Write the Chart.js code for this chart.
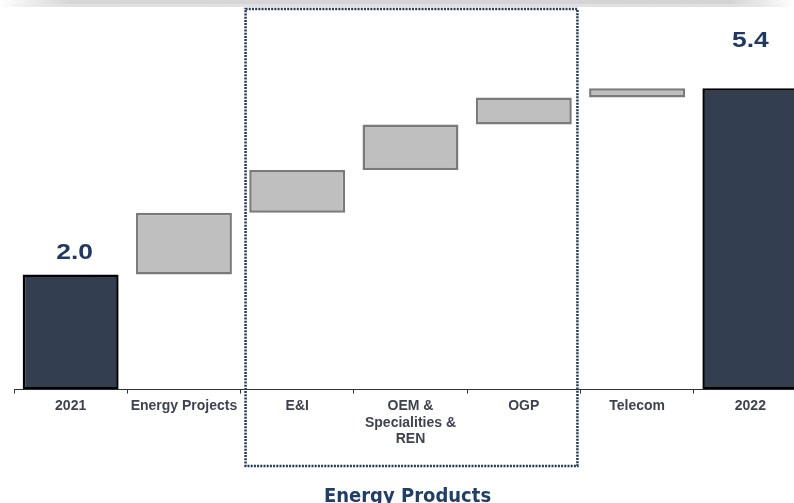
<!DOCTYPE html>
<html><head><meta charset="utf-8">
<script src="https://cdn.jsdelivr.net/npm/chart.js@4"></script>
<style>
html,body{margin:0;padding:0;background:#fff;overflow:hidden;width:794px;height:503px;}
#wrap{position:absolute;left:0;top:0;width:810px;height:503px;}
#band{position:absolute;left:0;top:0;width:794px;height:7px;
  background:linear-gradient(to right, rgba(255,255,255,1) 0px, rgba(214,214,214,1) 70px, rgba(212,212,212,1) 730px, rgba(255,255,255,1) 794px);}
#band2{position:absolute;left:0;top:4px;width:794px;height:3px;
  background:linear-gradient(to right, rgba(255,255,255,0) 0px, rgba(232,232,232,0.6) 70px, rgba(232,232,232,0.6) 730px, rgba(255,255,255,0) 794px);}
</style></head><body>
<div id="wrap"><canvas id="c" width="810" height="503"></canvas></div>
<div id="band"></div><div id="band2"></div>
<script>
const categories = ['2021', 'Energy Projects', 'E&I', ['OEM &', 'Specialities &', 'REN'], 'OGP', 'Telecom', '2022'];
const startTotal = 2.0;
const endTotal = 5.4;
const stepValues = [1.13, 0.78, 0.83, 0.49, 0.17];
const valueLabels = ['2.0', '5.4'];
const groupTitle = 'Energy Products';

const AXIS_MIN = -0.1;
const AXIS_MAX = 6.5;

const bars = [[AXIS_MIN, startTotal]];
let run = startTotal;
stepValues.forEach(v => { bars.push([run, run + v]); run += v; });
bars.push([AXIS_MIN, endTotal]);

const TOTAL_FILL = '#333f50', STEP_FILL = '#bfbfbf';
const isTotal = i => i === 0 || i === bars.length - 1;
const bg = bars.map((b, i) => isTotal(i) ? TOTAL_FILL : STEP_FILL);
const bd = bars.map((b, i) => isTotal(i) ? '#000000' : '#7a7a7a');
const bw = bars.map((b, i) => isTotal(i) ? 2.5 : 2.5);

function scaledText(ctx, text, x, y, sx, sy) {
  ctx.save();
  ctx.translate(x, y);
  ctx.scale(sx, sy);
  ctx.fillText(text, 0, 0);
  ctx.restore();
}

const overlay = {
  id: 'overlay',
  afterDraw(chart) {
    const ctx = chart.ctx, x = chart.scales.x, meta = chart.getDatasetMeta(0);
    const left = (x.getPixelForValue(1) + x.getPixelForValue(2)) / 2 + 5;
    const right = (x.getPixelForValue(4) + x.getPixelForValue(5)) / 2 - 3;
    const top = 9, bottom = 466;
    ctx.save();
    ctx.strokeStyle = '#1f3a5c';
    ctx.lineWidth = 2.5;
    ctx.setLineDash([2, 1.2]);
    ctx.strokeRect(left, top, right - left, bottom - top);
    ctx.setLineDash([]);
    ctx.fillStyle = '#1f3864';
    ctx.font = 'bold 22px "Liberation Sans", Arial, sans-serif';
    ctx.textAlign = 'center';
    ctx.textBaseline = 'alphabetic';
    const b0 = meta.data[0], b6 = meta.data[meta.data.length - 1];
    scaledText(ctx, valueLabels[0], b0.x + 4, b0.y - 16, 1.2, 1);
    scaledText(ctx, valueLabels[1], b6.x, b6.y - 41, 1.2, 1);
    ctx.fillStyle = '#203f68';
    ctx.font = 'bold 18px "DejaVu Sans", Verdana, sans-serif';
    scaledText(ctx, groupTitle, (left + right) / 2 - 4, 502, 1, 1.12);
    ctx.restore();
  }
};

new Chart(document.getElementById('c'), {
  type: 'bar',
  data: {
    labels: categories,
    datasets: [{
      data: bars,
      backgroundColor: bg,
      borderColor: bd,
      borderWidth: bw,
      borderSkipped: false,
      categoryPercentage: 1.0,
      barPercentage: 0.847
    }]
  },
  options: {
    responsive: false,
    animation: false,
    devicePixelRatio: 1,
    layout: { padding: { left: 14, right: 3, top: 28, bottom: 51 } },
    plugins: { legend: { display: false }, tooltip: { enabled: false } },
    scales: {
      x: {
        grid: { display: true, drawOnChartArea: false, drawTicks: true, tickLength: 4, offset: true, color: '#333333', lineWidth: 1 },
        border: { display: true, color: '#333333', width: 1 },
        ticks: {
          autoSkip: false, maxRotation: 0, minRotation: 0, padding: 4,
          color: '#3d4350',
          font: { family: '"Liberation Sans", Arial, sans-serif', size: 14, weight: 'bold', lineHeight: 1.2 }
        }
      },
      y: { display: false, min: AXIS_MIN, max: AXIS_MAX }
    }
  },
  plugins: [overlay]
});
</script>
</body></html>
